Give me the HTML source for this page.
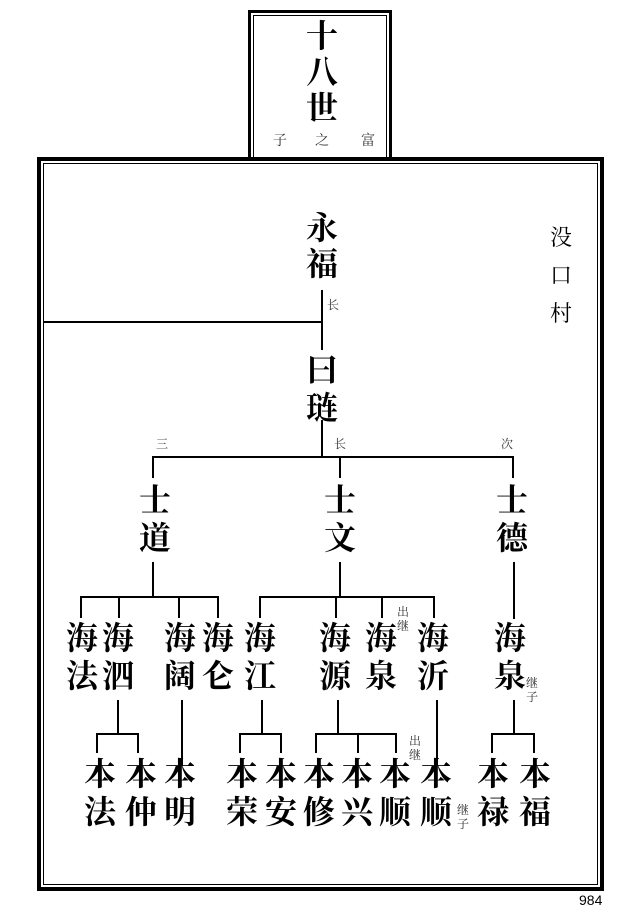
<!DOCTYPE html>
<html><head><meta charset="utf-8"><style>
body{margin:0;width:639px;height:915px;background:#fff;position:relative;overflow:hidden;font-family:"Liberation Serif","Noto Serif CJK SC",serif}
.b{position:absolute;box-sizing:border-box}
.n{position:absolute;width:40px;text-align:center;font-size:32px;font-weight:bold;color:#000;font-family:"Noto Serif CJK SC",serif}
.s{position:absolute;font-size:12px;color:#333;font-family:"Noto Serif CJK SC",serif;line-height:14px;width:14px;text-align:center}
.h{position:absolute;height:1.5px;background:#000}
.v{position:absolute;width:1.5px;background:#000}
</style></head><body>
<div class="b" style="left:248px;top:10px;width:144px;height:150px;border:3px solid #000"></div>
<div class="b" style="left:253px;top:15px;width:134px;height:145px;border:1px solid #000"></div>
<div class="b" style="left:37px;top:157px;width:567px;height:734px;border:4px solid #000;background:#fff"></div>
<div class="b" style="left:43px;top:163px;width:555px;height:722px;border:1px solid #000"></div>

<div class="n" style="left:302px;top:16px;line-height:36px">十<br>八<br>世</div>
<div class="s" style="left:273px;top:133px;font-size:14px">子</div>
<div class="s" style="left:315px;top:133px;font-size:14px">之</div>
<div class="s" style="left:361px;top:133px;font-size:14px">富</div>

<div class="s" style="left:549px;top:218px;font-size:22px;line-height:38px;width:24px;font-weight:normal;color:#000">没<br>口<br>村</div>

<div class="n" style="left:302px;top:208px;line-height:36px">永<br>福</div>
<div class="v" style="left:321px;top:290px;height:60px"></div>
<div class="s" style="left:326px;top:298px">长</div>
<div class="h" style="left:43px;top:321px;width:279px"></div>
<div class="n" style="left:302px;top:349px;line-height:38px">曰<br>琏</div>
<div class="v" style="left:321px;top:420px;height:37px"></div>
<div class="h" style="left:152px;top:456px;width:361px"></div>
<div class="s" style="left:155px;top:437px">三</div>
<div class="s" style="left:333px;top:437px">长</div>
<div class="s" style="left:500px;top:437px">次</div>
<div class="v" style="left:152px;top:456px;height:22px"></div>
<div class="v" style="left:339px;top:456px;height:22px"></div>
<div class="v" style="left:512px;top:456px;height:22px"></div>

<div class="n" style="left:135px;top:479px;line-height:38px">士<br>道</div>
<div class="n" style="left:320px;top:479px;line-height:38px">士<br>文</div>
<div class="n" style="left:492px;top:479px;line-height:38px">士<br>德</div>

<div class="v" style="left:152px;top:562px;height:35px"></div>
<div class="h" style="left:80px;top:596px;width:138px"></div>
<div class="v" style="left:80px;top:596px;height:22px"></div>
<div class="v" style="left:118px;top:596px;height:22px"></div>
<div class="v" style="left:178px;top:596px;height:22px"></div>
<div class="v" style="left:217px;top:596px;height:22px"></div>
<div class="v" style="left:339px;top:562px;height:35px"></div>
<div class="h" style="left:259px;top:596px;width:175px"></div>
<div class="v" style="left:259px;top:596px;height:22px"></div>
<div class="v" style="left:335px;top:596px;height:22px"></div>
<div class="v" style="left:381px;top:596px;height:22px"></div>
<div class="v" style="left:433px;top:596px;height:22px"></div>
<div class="v" style="left:513px;top:562px;height:57px"></div>

<div class="n" style="left:62px;top:617px;line-height:38px">海<br>法</div>
<div class="n" style="left:98px;top:617px;line-height:38px">海<br>泗</div>
<div class="n" style="left:160px;top:617px;line-height:38px">海<br>阔</div>
<div class="n" style="left:198px;top:617px;line-height:38px">海<br>仑</div>
<div class="n" style="left:240px;top:617px;line-height:38px">海<br>江</div>
<div class="n" style="left:315px;top:617px;line-height:38px">海<br>源</div>
<div class="n" style="left:361px;top:617px;line-height:38px">海<br>泉</div>
<div class="n" style="left:413px;top:617px;line-height:38px">海<br>沂</div>
<div class="n" style="left:490px;top:617px;line-height:38px">海<br>泉</div>
<div class="s" style="left:396px;top:605px">出<br>继</div>
<div class="s" style="left:525px;top:676px">继<br>子</div>

<div class="v" style="left:117px;top:700px;height:34px"></div>
<div class="h" style="left:96px;top:733px;width:42px"></div>
<div class="v" style="left:96px;top:733px;height:20px"></div>
<div class="v" style="left:137px;top:733px;height:20px"></div>
<div class="v" style="left:181px;top:700px;height:66px"></div>
<div class="v" style="left:261px;top:700px;height:34px"></div>
<div class="h" style="left:239px;top:733px;width:42px"></div>
<div class="v" style="left:239px;top:733px;height:20px"></div>
<div class="v" style="left:280px;top:733px;height:20px"></div>
<div class="v" style="left:337px;top:700px;height:34px"></div>
<div class="h" style="left:315px;top:733px;width:81px"></div>
<div class="v" style="left:315px;top:733px;height:20px"></div>
<div class="v" style="left:357px;top:733px;height:20px"></div>
<div class="v" style="left:395px;top:733px;height:20px"></div>
<div class="v" style="left:436px;top:700px;height:66px"></div>
<div class="v" style="left:513px;top:700px;height:34px"></div>
<div class="h" style="left:491px;top:733px;width:43px"></div>
<div class="v" style="left:491px;top:733px;height:20px"></div>
<div class="v" style="left:533px;top:733px;height:20px"></div>
<div class="s" style="left:408px;top:734px">出<br>继</div>

<div class="n" style="left:80px;top:753px;line-height:38px">本<br>法</div>
<div class="n" style="left:121px;top:753px;line-height:38px">本<br>仲</div>
<div class="n" style="left:160px;top:753px;line-height:38px">本<br>明</div>
<div class="n" style="left:222px;top:753px;line-height:38px">本<br>荣</div>
<div class="n" style="left:261px;top:753px;line-height:38px">本<br>安</div>
<div class="n" style="left:299px;top:753px;line-height:38px">本<br>修</div>
<div class="n" style="left:337px;top:753px;line-height:38px">本<br>兴</div>
<div class="n" style="left:375px;top:753px;line-height:38px">本<br>顺</div>
<div class="n" style="left:416px;top:753px;line-height:38px">本<br>顺</div>
<div class="n" style="left:473px;top:753px;line-height:38px">本<br>禄</div>
<div class="n" style="left:515px;top:753px;line-height:38px">本<br>福</div>
<div class="s" style="left:456px;top:803px">继<br>子</div>

<div style="position:absolute;left:579px;top:892px;font-size:14px;font-family:'Liberation Sans',sans-serif">984</div>
</body></html>
